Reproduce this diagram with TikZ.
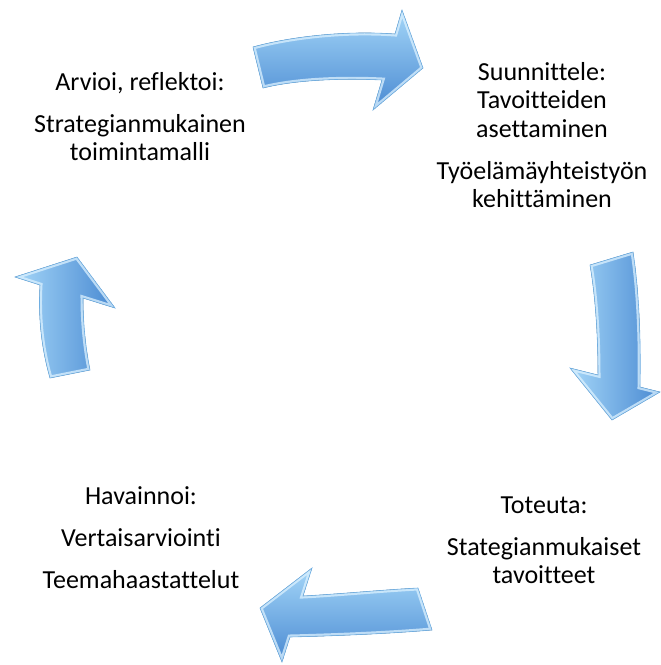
\documentclass[tikz,border=0pt]{standalone}
\usepackage{fontspec}
\setmainfont{Carlito}[Ligatures=NoCommon]
\definecolor{arrowlight}{HTML}{A4D6F8}
\definecolor{arrowmid}{HTML}{5DA3E3}
\definecolor{arrowdark}{HTML}{4A8AD2}
\definecolor{arrowrim}{HTML}{DDF2FF}
\definecolor{arrowedge}{HTML}{6FAEE2}
\tikzset{
  label text/.style={anchor=base, inner sep=0pt, text=black,
    font=\fontsize{26}{28.5}\selectfont},
  hshade/.style={top color=arrowlight, middle color=arrowmid, bottom color=arrowdark},
  vshade/.style={left color=arrowlight, middle color=arrowmid, right color=arrowdark},
}
% outlines of the four curved block arrows
\def\arrowtop{(253,47) .. controls (285,38) and (340,30) .. (395,34) -- (402,10) -- (423,68) -- (373,110) -- (382,80) .. controls (340,78) and (295,80) .. (263,88) -- cycle}
\def\arrowright{(590,265) -- (633,252) .. controls (639,290) and (641,340) .. (640,387) -- (660,392) -- (612,420) -- (570,368) -- (598,375) .. controls (598,340) and (596,300) .. (590,265) -- cycle}
\def\arrowbottom{(418,588) .. controls (380,590) and (340,594) .. (303,596) -- (312,568) -- (260,608) -- (282,662) -- (290,637) .. controls (330,636) and (385,634) .. (432,630) -- cycle}
\def\arrowleft{(77,257) -- (115,308) -- (83,298) .. controls (83,320) and (85,345) .. (90,370) -- (50,378) .. controls (42,350) and (38,320) .. (40,285) -- (15,277) -- cycle}
% shaded arrow with a light bevel rim
\newcommand\blockarrow[2]{%
  \begin{scope}
    \clip #1;
    \fill[#2] #1;
    \draw[arrowrim, line width=5pt, opacity=0.75, line join=miter] #1;
  \end{scope}
  \draw[arrowedge, line width=0.6pt, line join=miter] #1;
}
\begin{document}
\begin{tikzpicture}[x=1pt, y=-1pt]
  \useasboundingbox (0,0) rectangle (661,665);

  \blockarrow{\arrowtop}{hshade}
  \blockarrow{\arrowright}{vshade}
  \blockarrow{\arrowbottom}{hshade}
  \blockarrow{\arrowleft}{vshade}

  % Arvioi
  \node[label text] (arv1) at (140,90) {Arvioi, reflektoi:};
  \node[label text] (arv2) at (140,132) {Strategianmukainen};
  \node[label text] (arv3) at (140,160.5) {toimintamalli};

  % Suunnittele
  \node[label text] (suu1) at (542,80) {Suunnittele:};
  \node[label text] (suu2) at (542,108.5) {Tavoitteiden};
  \node[label text] (suu3) at (542,137) {asettaminen};
  \node[label text] (suu4) at (542,179) {Työelämäyhteistyön};
  \node[label text] (suu5) at (542,207.5) {kehittäminen};

  % Toteuta
  \node[label text] (tot1) at (544,513) {Toteuta:};
  \node[label text] (tot2) at (544,555) {Stategianmukaiset};
  \node[label text] (tot3) at (544,583.5) {tavoitteet};

  % Havainnoi
  \node[label text] (hav1) at (141,504) {Havainnoi:};
  \node[label text] (hav2) at (141,546) {Vertaisarviointi};
  \node[label text] (hav3) at (141,588) {Teemahaastattelut};
\end{tikzpicture}
\end{document}
